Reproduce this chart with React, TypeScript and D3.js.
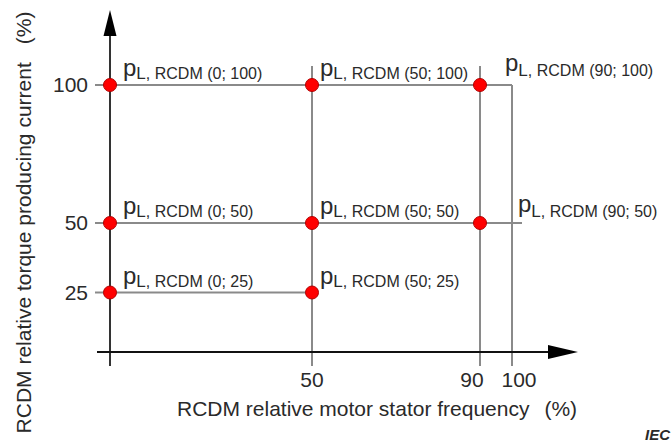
import React from "react";
import * as d3 from "d3";

const freqTicks = [50, 90, 100];
const currentTicks = [25, 50, 100];
const pointFreq = [0, 50, 90, 0, 50, 90, 0, 50];
const pointCurrent = [100, 100, 100, 50, 50, 50, 25, 25];
const xTitle = "RCDM relative motor stator frequency";
const yTitle = "RCDM relative torque producing current";
const unit = "(%)";

const W = 671;
const H = 443;
const FONT = "'Liberation Sans', Arial, Helvetica, sans-serif";

export default function App() {
  const x = d3.scaleLinear().domain([0, 50, 90, 100]).range([110, 312, 480, 512]);
  const y = d3.scaleLinear().domain([0, 25, 50, 100]).range([352, 292.5, 223, 85]);
  const axisY = y(0);
  const grid = "#8a8a8a";
  const text = "#2a2a2a";

  // horizontal grid extents per current level
  const hLines = [
    { c: 100, x1: x(0), x2: x(100) },
    { c: 50, x1: x(0), x2: x(100) + 10 },
    { c: 25, x1: x(0), x2: x(50) },
  ];
  const vLines = [
    { f: 50, y1: y(100) - 19 },
    { f: 90, y1: y(100) - 19 },
    { f: 100, y1: y(100) },
  ];

  const labelPos = (f: number, c: number) => {
    if (f === 90 && c === 100) return { lx: x(100) - 7, pb: y(c) - 14, sb: y(c) - 9 };
    if (f === 90) return { lx: x(100) + 6, pb: y(c) - 11, sb: y(c) - 6 };
    if (f === 50) return { lx: x(f) + 8, pb: y(c) - 9, sb: y(c) - 6 };
    return { lx: x(f) + 13, pb: y(c) - 9, sb: y(c) - 6 };
  };

  return (
    <svg width={W} height={H} style={{ position: "absolute", left: 0, top: 0, background: "#fff" }}>
      <rect width={W} height={H} fill="#fff" />
      {/* grid lines */}
      {hLines.map((h) => (
        <line key={"h" + h.c} x1={h.x1} x2={h.x2} y1={y(h.c)} y2={y(h.c)} stroke={grid} strokeWidth={2} />
      ))}
      {vLines.map((v) => (
        <line key={"v" + v.f} x1={x(v.f)} x2={x(v.f)} y1={v.y1} y2={axisY + 14} stroke={grid} strokeWidth={2} />
      ))}
      {/* y tick stubs */}
      {currentTicks.map((c) => (
        <line key={"yt" + c} x1={x(0) - 15} x2={x(0)} y1={y(c)} y2={y(c)} stroke={grid} strokeWidth={2} />
      ))}
      {/* axes */}
      <line x1={x(0)} x2={x(0)} y1={30} y2={axisY + 14} stroke="#333" strokeWidth={2} />
      <line x1={x(0) - 13} x2={555} y1={axisY} y2={axisY} stroke="#111" strokeWidth={2} />
      <path d={`M${x(0)},10 L${x(0) - 6.5},36 L${x(0) + 6.5},36 Z`} fill="#000" />
      <path d={`M578,${axisY} L548,${axisY - 7} L548,${axisY + 7} Z`} fill="#000" />

      {/* tick labels */}
      {currentTicks.map((c) => (
        <text key={"yl" + c} x={88} y={y(c) + 7} textAnchor="end" fontFamily={FONT} fontSize={21} fill={text}>
          {c}
        </text>
      ))}
      {freqTicks.map((f) => (
        <text
          key={"xl" + f}
          x={x(f) + (f === 90 ? -8 : f === 100 ? 7 : 0)}
          y={387}
          textAnchor="middle"
          fontFamily={FONT}
          fontSize={21}
          fill={text}
        >
          {f}
        </text>
      ))}

      {/* points */}
      {pointFreq.map((f, i) => (
        <circle key={"p" + i} cx={x(f)} cy={y(pointCurrent[i])} r={6.5} fill="#ff0000" stroke="#b00000" strokeWidth={1} />
      ))}

      {/* point labels */}
      {pointFreq.map((f, i) => {
        const c = pointCurrent[i];
        const { lx, pb, sb } = labelPos(f, c);
        return (
          <text key={"lab" + i} fontFamily={FONT} fill={text}>
            <tspan x={lx} y={pb} fontSize={24}>p</tspan>
            <tspan y={sb} fontSize={17}>L</tspan>
            <tspan y={sb} fontSize={16}>{`, RCDM (${f}; ${c})`}</tspan>
          </text>
        );
      })}

      {/* axis titles */}
      <text x={177} y={416} fontFamily={FONT} fontSize={21} fill={text}>
        {xTitle}
        <tspan dx={15}>{unit}</tspan>
      </text>
      <text
        transform={`translate(31, 222.5) rotate(-90)`}
        textAnchor="middle"
        fontFamily={FONT}
        fontSize={21}
        fill={text}
      >
        {yTitle}
        <tspan dx={18}>{unit}</tspan>
      </text>

      <text x={670} y={440} textAnchor="end" fontFamily={FONT} fontSize={15} fontWeight="bold" fontStyle="italic" fill={text}>
        IEC
      </text>
    </svg>
  );
}
